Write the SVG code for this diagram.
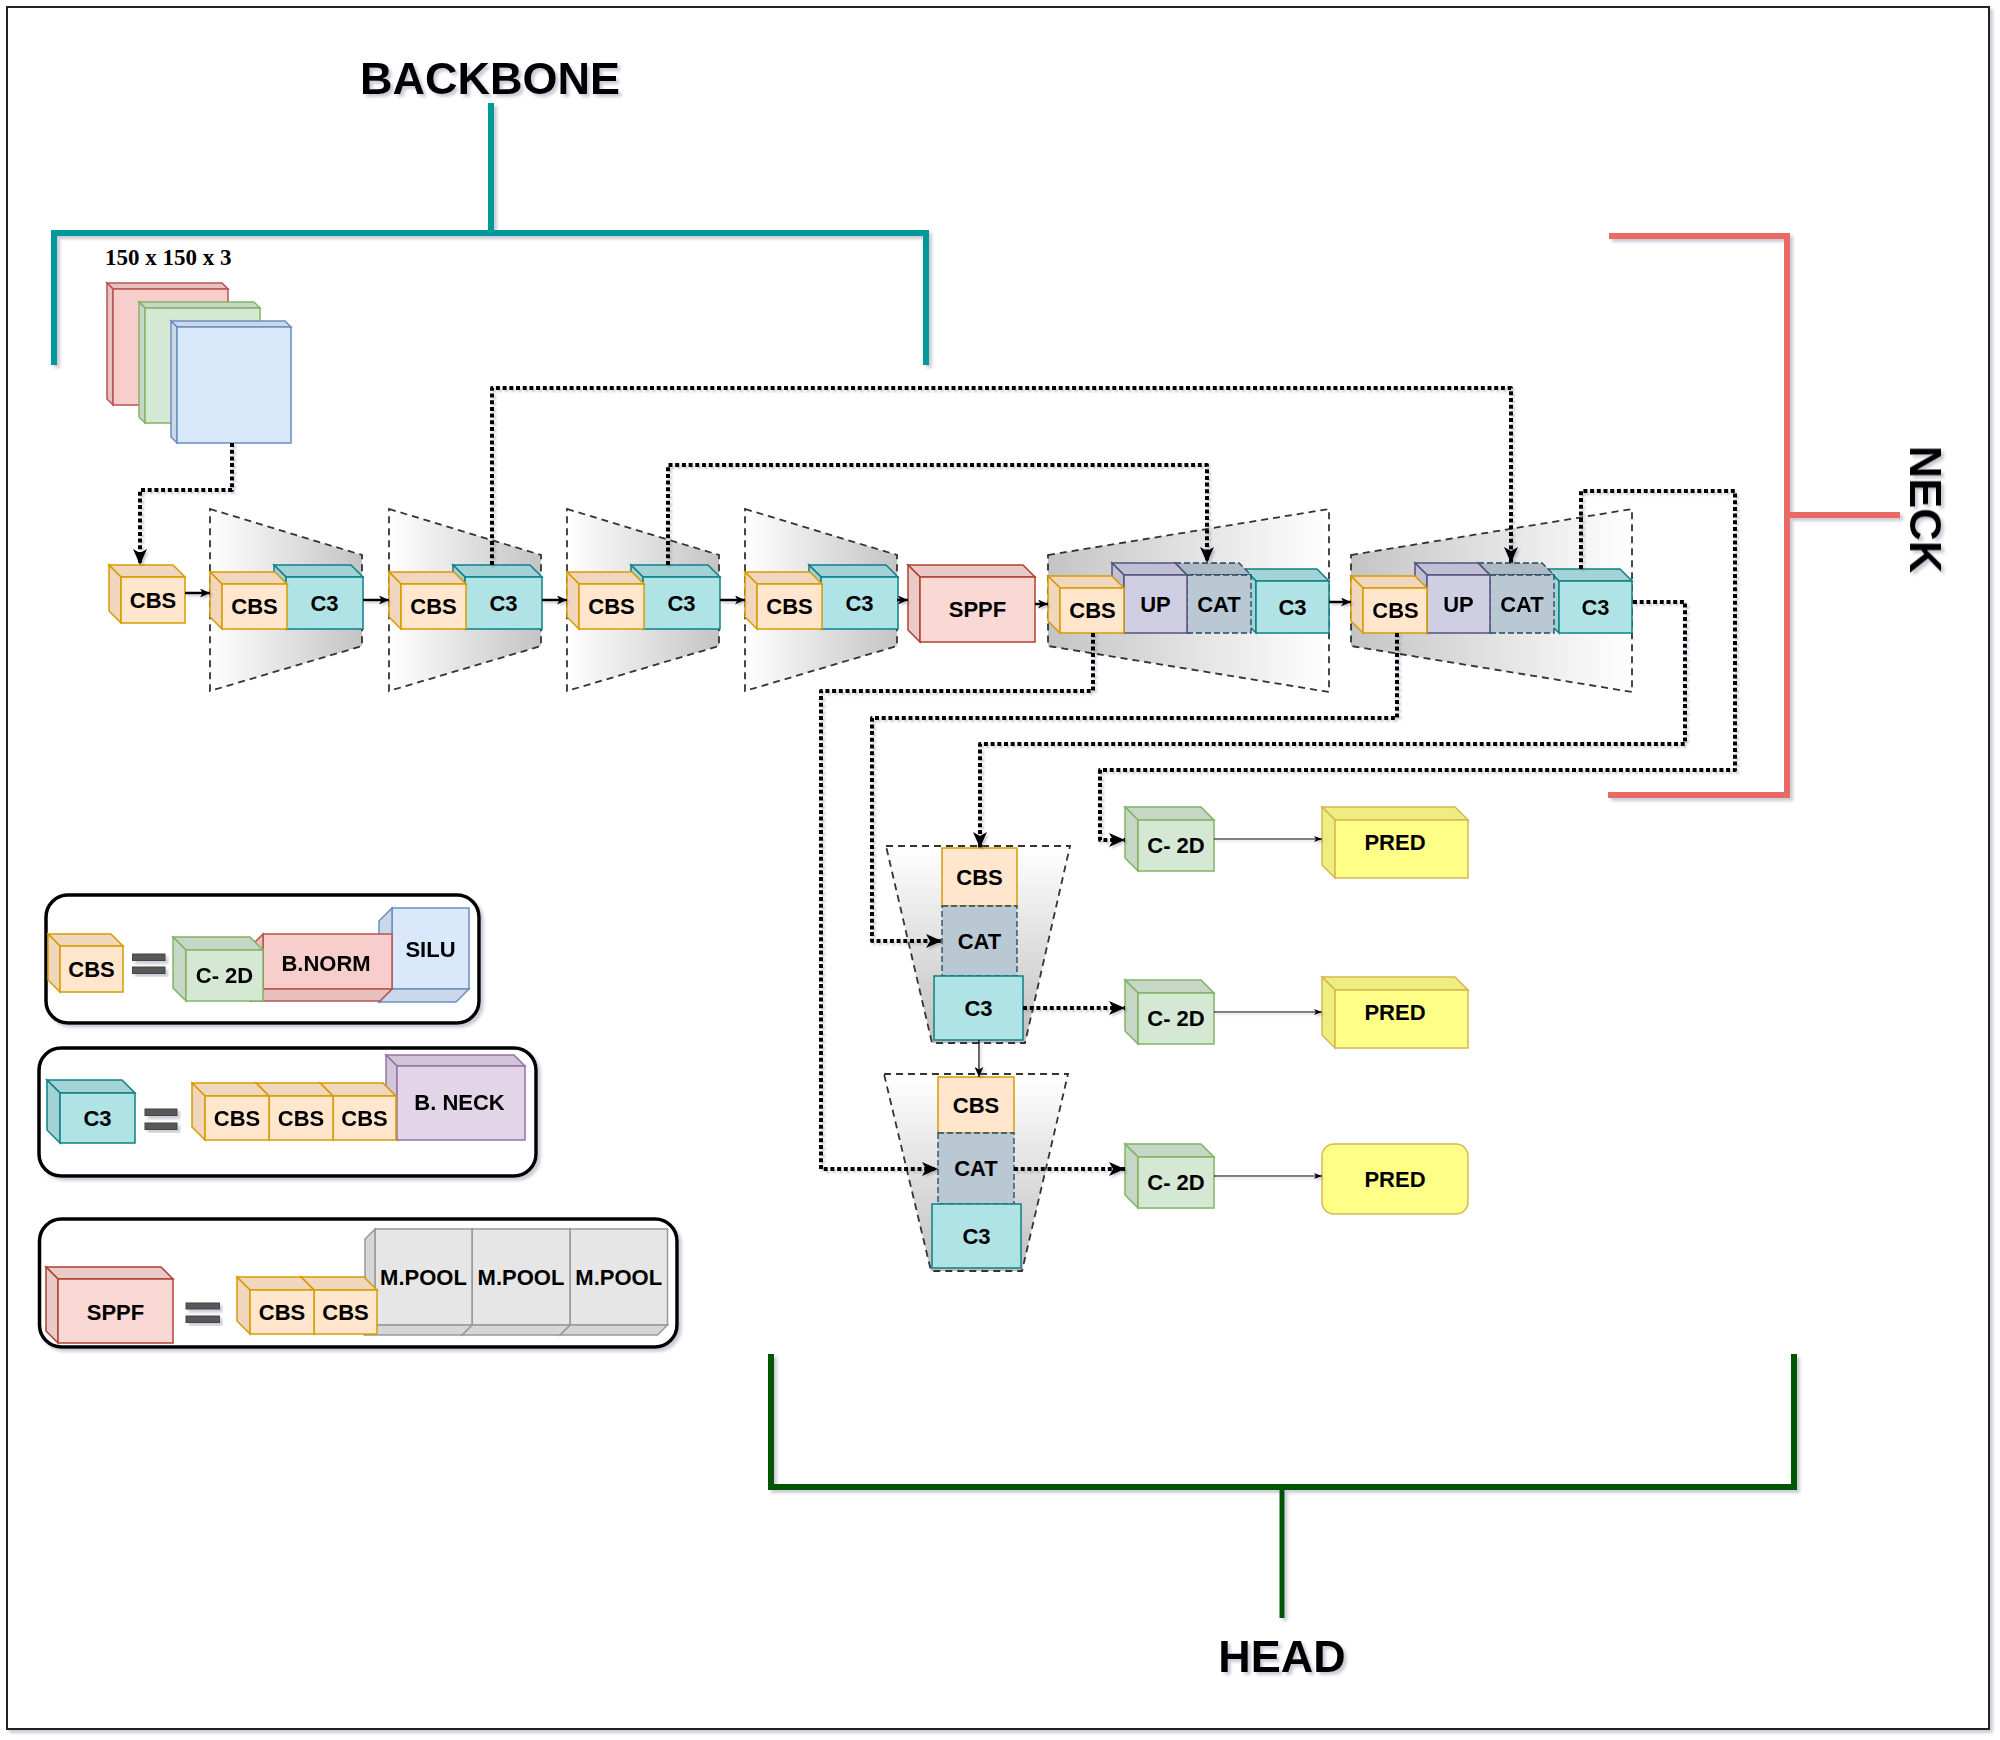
<svg xmlns="http://www.w3.org/2000/svg" width="2000" height="1740" viewBox="0 0 2000 1740">
<defs>
<style>
.t{font-family:"Liberation Sans",Arial,sans-serif;font-weight:bold;font-size:22px;text-anchor:middle;fill:#000}
.title{font-family:"Liberation Sans",Arial,sans-serif;font-weight:bold;font-size:45px;text-anchor:middle;fill:#000}
.trap{stroke:#333;stroke-width:1.8;stroke-dasharray:7 5}
.dot{fill:none;stroke:#000;stroke-width:4;stroke-dasharray:4 2.7;stroke-linejoin:round}
.sol{fill:none;stroke:#000;stroke-width:2.5}
.thin{fill:none;stroke:#000;stroke-width:1.2}
.frame{fill:#fff;stroke:#000;stroke-width:3.5}
.eq{fill:#595959;stroke:#444;stroke-width:1}
.cbs rect,.cbs polygon{stroke:#d79b00;stroke-width:1.5}.cbs rect{fill:#ffe6cc}.cbs polygon{fill:#efd6bc}
.c3 rect,.c3 polygon{stroke:#0e8088;stroke-width:1.5}.c3 rect{fill:#b0e3e6}.c3 polygon{fill:#a3d3d6}
.up rect,.up polygon{stroke:#56517e;stroke-width:1.5}.up rect{fill:#d0cee2}.up polygon{fill:#c1bfd3}
.cat rect,.cat polygon{stroke:#23445d;stroke-width:1.3;stroke-dasharray:6 3}.cat rect{fill:#bac8d3}.cat polygon{fill:#adbac4}
.sppf rect,.sppf polygon{stroke:#ae4132;stroke-width:1.5}.sppf rect{fill:#fad9d5}.sppf polygon{fill:#e9cac6}
.c2d rect,.c2d polygon{stroke:#82b366;stroke-width:1.5}.c2d rect{fill:#d5e8d4}.c2d polygon{fill:#c6d8c5}
.pred rect,.pred polygon{stroke:#d6b656;stroke-width:1.5}.pred rect{fill:#ffff88}.pred polygon{fill:#eeee7e}
.red rect,.red polygon{stroke:#b85450;stroke-width:1.5}.red rect{fill:#f8cecc}.red polygon{fill:#e8c0be}
.grn rect,.grn polygon{stroke:#82b366;stroke-width:1.5}.grn rect{fill:#d5e8d4}.grn polygon{fill:#c6d8c5}
.blu rect,.blu polygon{stroke:#6c8ebf;stroke-width:1.5}.blu rect{fill:#dae8fc}.blu polygon{fill:#cbd8eb}
.bneck rect,.bneck polygon{stroke:#9673a6;stroke-width:1.5}.bneck rect{fill:#e1d5e7}.bneck polygon{fill:#d1c6d7}
.mp rect,.mp polygon{stroke:#999;stroke-width:1.5}.mp rect{fill:#e6e6e6}.mp polygon{fill:#d6d6d6}
</style>
<linearGradient id="gB" x1="0" y1="0" x2="1" y2="0"><stop offset="0" stop-color="#fff"/><stop offset="1" stop-color="#c4c4c4"/></linearGradient>
<linearGradient id="gN" x1="0" y1="0" x2="1" y2="0"><stop offset="0" stop-color="#c4c4c4"/><stop offset="1" stop-color="#fff"/></linearGradient>
<linearGradient id="gH" x1="0" y1="0" x2="0" y2="1"><stop offset="0" stop-color="#fff"/><stop offset="1" stop-color="#c0c0c0"/></linearGradient>
<filter id="sh" x="-5%" y="-5%" width="115%" height="120%"><feDropShadow dx="3" dy="3" stdDeviation="1.5" flood-color="#6c6c8c" flood-opacity="0.35"/></filter>
<filter id="shc" x="-2%" y="-2%" width="104%" height="104%"><feDropShadow dx="2" dy="2" stdDeviation="1" flood-color="#6c6c8c" flood-opacity="0.35"/></filter>
<marker id="a4" markerUnits="userSpaceOnUse" markerWidth="16" markerHeight="14" refX="16" refY="7" orient="auto"><path d="M0,0 L16,7 L0,14 L4,7 Z" fill="#000"/></marker>
<marker id="a2" markerUnits="userSpaceOnUse" markerWidth="10" markerHeight="9" refX="10" refY="4.5" orient="auto"><path d="M0,0 L10,4.5 L0,9 L2.5,4.5 Z" fill="#000"/></marker>
<marker id="a1" markerUnits="userSpaceOnUse" markerWidth="8" markerHeight="6" refX="8" refY="3" orient="auto"><path d="M0,0 L8,3 L0,6 L2,3 Z" fill="#000"/></marker>
</defs>
<rect x="0" y="0" width="2000" height="1740" fill="#fff"/>
<rect id="border" x="7" y="7" width="1982" height="1722" fill="#fff" stroke="#222" stroke-width="2" filter="url(#sh)"/>

<!-- brackets and titles -->
<g id="backbone" filter="url(#sh)">
<text class="title" x="490" y="94">BACKBONE</text>
<path d="M491,103 V233" fill="none" stroke="#00999a" stroke-width="6"/>
<path d="M54,365 V233 H926 V365" fill="none" stroke="#00999a" stroke-width="6"/>
</g>
<g id="neck" filter="url(#sh)">
<path d="M1609,236 H1787 V795 H1608" fill="none" stroke="#ea6b66" stroke-width="6"/>
<path d="M1787,515 H1900" fill="none" stroke="#ea6b66" stroke-width="6"/>
<text class="title" transform="translate(1926,509.5) rotate(90)" x="0" y="16">NECK</text>
</g>
<g id="head" filter="url(#sh)">
<path d="M771,1354 V1487 H1794 V1354" fill="none" stroke="#005700" stroke-width="6"/>
<path d="M1282,1487 V1618" fill="none" stroke="#005700" stroke-width="5"/>
<text class="title" x="1282" y="1672">HEAD</text>
</g>

<!-- input -->
<g id="input">
<text x="105" y="265" font-family="'Liberation Serif','Times New Roman',serif" font-weight="bold" font-size="23" fill="#000">150 x 150 x 3</text>
<g class="red"><polygon points="107,283 222,283 228,289 113,289"/><polygon points="107,283 113,289 113,405 107,399"/><rect x="113" y="289" width="115" height="116"/></g>
<g class="grn"><polygon points="139,302 254,302 260,308 145,308"/><polygon points="139,302 145,308 145,423 139,417"/><rect x="145" y="308" width="115" height="115"/></g>
<g class="blu"><polygon points="171,321 285,321 291,327 177,327"/><polygon points="171,321 177,327 177,443 171,437"/><rect x="177" y="327" width="114" height="116"/></g>
</g>

<g id="cbs0" class="cbs"><polygon points="109,565 173,565 185,577 121,577"/><polygon points="109,565 121,577 121,623 109,611"/><rect x="121" y="577" width="64" height="46"/><text class="t" x="153" y="608">CBS</text></g>

<!-- backbone stages -->
<g id="stage1" transform="translate(210,0)">
<path class="trap" d="M0,509 L152,555 L152,646 L0,691 Z" fill="url(#gB)"/>
<g class="c3"><polygon points="64,565 141,565 153,577 76,577"/><polygon points="64,565 76,577 76,629 64,617"/><rect x="76" y="577" width="77" height="52"/><text class="t" x="114.5" y="611">C3</text></g>
<g class="cbs"><polygon points="0,572 65,572 77,584 12,584"/><polygon points="0,572 12,584 12,629 0,617"/><rect x="12" y="584" width="65" height="45"/><text class="t" x="44.5" y="614">CBS</text></g>
</g>
<g id="stage2" transform="translate(389,0)">
<path class="trap" d="M0,509 L152,555 L152,646 L0,691 Z" fill="url(#gB)"/>
<g class="c3"><polygon points="64,565 141,565 153,577 76,577"/><polygon points="64,565 76,577 76,629 64,617"/><rect x="76" y="577" width="77" height="52"/><text class="t" x="114.5" y="611">C3</text></g>
<g class="cbs"><polygon points="0,572 65,572 77,584 12,584"/><polygon points="0,572 12,584 12,629 0,617"/><rect x="12" y="584" width="65" height="45"/><text class="t" x="44.5" y="614">CBS</text></g>
</g>
<g id="stage3" transform="translate(567,0)">
<path class="trap" d="M0,509 L152,555 L152,646 L0,691 Z" fill="url(#gB)"/>
<g class="c3"><polygon points="64,565 141,565 153,577 76,577"/><polygon points="64,565 76,577 76,629 64,617"/><rect x="76" y="577" width="77" height="52"/><text class="t" x="114.5" y="611">C3</text></g>
<g class="cbs"><polygon points="0,572 65,572 77,584 12,584"/><polygon points="0,572 12,584 12,629 0,617"/><rect x="12" y="584" width="65" height="45"/><text class="t" x="44.5" y="614">CBS</text></g>
</g>
<g id="stage4" transform="translate(745,0)">
<path class="trap" d="M0,509 L152,555 L152,646 L0,691 Z" fill="url(#gB)"/>
<g class="c3"><polygon points="64,565 141,565 153,577 76,577"/><polygon points="64,565 76,577 76,629 64,617"/><rect x="76" y="577" width="77" height="52"/><text class="t" x="114.5" y="611">C3</text></g>
<g class="cbs"><polygon points="0,572 65,572 77,584 12,584"/><polygon points="0,572 12,584 12,629 0,617"/><rect x="12" y="584" width="65" height="45"/><text class="t" x="44.5" y="614">CBS</text></g>
</g>

<g id="sppf" class="sppf"><polygon points="908,565 1023,565 1035,577 920,577"/><polygon points="908,565 920,577 920,642 908,630"/><rect x="920" y="577" width="115" height="65"/><text class="t" x="977.5" y="617">SPPF</text></g>

<!-- neck stages -->
<g id="neck1" transform="translate(1048,0)">
<path class="trap" d="M0,555 L281,509 L281,692 L0,646 Z" fill="url(#gN)"/>
<g class="c3"><polygon points="196,569 269,569 281,581 208,581"/><polygon points="196,569 208,581 208,633 196,621"/><rect x="208" y="581" width="73" height="52"/><text class="t" x="244.5" y="615">C3</text></g>
<g class="cat"><polygon points="127,563 191,563 203,575 139,575"/><polygon points="127,563 139,575 139,633 127,621"/><rect x="139" y="575" width="64" height="58"/><text class="t" x="171" y="612">CAT</text></g>
<g class="up"><polygon points="64,563 127,563 139,575 76,575"/><polygon points="64,563 76,575 76,633 64,621"/><rect x="76" y="575" width="63" height="58"/><text class="t" x="107.5" y="612">UP</text></g>
<g class="cbs"><polygon points="0,576 64,576 76,588 12,588"/><polygon points="0,576 12,588 12,633 0,621"/><rect x="12" y="588" width="64" height="45"/><text class="t" x="44.5" y="618">CBS</text></g>
</g>
<g id="neck2" transform="translate(1351,0)">
<path class="trap" d="M0,555 L281,509 L281,692 L0,646 Z" fill="url(#gN)"/>
<g class="c3"><polygon points="196,569 269,569 281,581 208,581"/><polygon points="196,569 208,581 208,633 196,621"/><rect x="208" y="581" width="73" height="52"/><text class="t" x="244.5" y="615">C3</text></g>
<g class="cat"><polygon points="127,563 191,563 203,575 139,575"/><polygon points="127,563 139,575 139,633 127,621"/><rect x="139" y="575" width="64" height="58"/><text class="t" x="171" y="612">CAT</text></g>
<g class="up"><polygon points="64,563 127,563 139,575 76,575"/><polygon points="64,563 76,575 76,633 64,621"/><rect x="76" y="575" width="63" height="58"/><text class="t" x="107.5" y="612">UP</text></g>
<g class="cbs"><polygon points="0,576 64,576 76,588 12,588"/><polygon points="0,576 12,588 12,633 0,621"/><rect x="12" y="588" width="64" height="45"/><text class="t" x="44.5" y="618">CBS</text></g>
</g>

<!-- head stages -->
<g id="head1">
<path class="trap" d="M886,846 L1070,846 L1025,1043 L932,1043 Z" fill="url(#gH)"/>
<g class="cbs"><rect x="942" y="848" width="75" height="58"/><text class="t" x="979.5" y="885">CBS</text></g>
<g class="cat"><rect x="942" y="906" width="75" height="70"/><text class="t" x="979.5" y="949">CAT</text></g>
<g class="c3"><rect x="934" y="976" width="89" height="64"/><text class="t" x="978.5" y="1016">C3</text></g>
</g>
<g id="head2">
<path class="trap" d="M884,1074 L1068,1074 L1022,1271 L931,1271 Z" fill="url(#gH)"/>
<g class="cbs"><rect x="938" y="1077" width="76" height="56"/><text class="t" x="976" y="1113">CBS</text></g>
<g class="cat"><rect x="938" y="1133" width="76" height="71"/><text class="t" x="976" y="1176">CAT</text></g>
<g class="c3"><rect x="932" y="1204" width="89" height="64"/><text class="t" x="976.5" y="1244">C3</text></g>
</g>

<g id="c2d1" class="c2d" transform="translate(1125,807)"><polygon points="0,0 76,0 89,13 13,13"/><polygon points="0,0 13,13 13,64 0,51"/><rect x="13" y="13" width="76" height="51"/><text class="t" x="51" y="46">C- 2D</text></g>
<g id="c2d2" class="c2d" transform="translate(1125,980)"><polygon points="0,0 76,0 89,13 13,13"/><polygon points="0,0 13,13 13,64 0,51"/><rect x="13" y="13" width="76" height="51"/><text class="t" x="51" y="46">C- 2D</text></g>
<g id="c2d3" class="c2d" transform="translate(1125,1144)"><polygon points="0,0 76,0 89,13 13,13"/><polygon points="0,0 13,13 13,64 0,51"/><rect x="13" y="13" width="76" height="51"/><text class="t" x="51" y="46">C- 2D</text></g>

<g id="pred1" class="pred" transform="translate(1322,807)"><polygon points="0,0 133,0 146,13 13,13"/><polygon points="0,0 13,13 13,71 0,58"/><rect x="13" y="13" width="133" height="58"/><text class="t" x="73" y="43">PRED</text></g>
<g id="pred2" class="pred" transform="translate(1322,977)"><polygon points="0,0 133,0 146,13 13,13"/><polygon points="0,0 13,13 13,71 0,58"/><rect x="13" y="13" width="133" height="58"/><text class="t" x="73" y="43">PRED</text></g>
<g id="pred3" class="pred"><rect x="1322" y="1144" width="146" height="70" rx="12"/><text class="t" x="1395" y="1187">PRED</text></g>

<!-- connectors -->
<g id="connectors" filter="url(#shc)">
<path class="dot" d="M232,443 V490 H140 V565" marker-end="url(#a4)"/>
<path class="dot" d="M492,565 V388 H1511 V563" marker-end="url(#a4)"/>
<path class="dot" d="M668,565 V465 H1207 V563" marker-end="url(#a4)"/>
<path class="dot" d="M1581,569 V491 H1735 V770 H1100 V840 H1125" marker-end="url(#a4)"/>
<path class="dot" d="M1633,602 H1685 V744 H980 V848" marker-end="url(#a4)"/>
<path class="dot" d="M1397,633 V718 H872 V941 H942" marker-end="url(#a4)"/>
<path class="dot" d="M1093,633 V691 H821 V1169 H938" marker-end="url(#a4)"/>
<path class="dot" d="M1023,1008 H1125" marker-end="url(#a4)"/>
<path class="dot" d="M1014,1169 H1125" marker-end="url(#a4)"/>
<path class="sol" d="M185,593 H210" marker-end="url(#a2)"/>
<path class="sol" d="M363,600 H389" marker-end="url(#a2)"/>
<path class="sol" d="M542,600 H567" marker-end="url(#a2)"/>
<path class="sol" d="M720,600 H745" marker-end="url(#a2)"/>
<path class="sol" d="M897,600 H908" marker-end="url(#a2)"/>
<path class="sol" d="M1035,604 H1048" marker-end="url(#a2)"/>
<path class="sol" d="M1329,602 H1351" marker-end="url(#a2)"/>
<path class="thin" d="M979,1040 V1077" stroke-width="1.8" marker-end="url(#a2)"/>
<path class="thin" d="M1214,839 H1322" marker-end="url(#a1)"/>
<path class="thin" d="M1214,1012 H1322" marker-end="url(#a1)"/>
<path class="thin" d="M1214,1176 H1322" marker-end="url(#a1)"/>
</g>

<!-- legend CBS -->
<g id="legend-cbs">
<rect class="frame" x="46" y="895" width="433" height="128" rx="22" filter="url(#sh)"/>
<g class="cbs"><polygon points="48,934 111,934 123,946 60,946"/><polygon points="48,934 60,946 60,992 48,980"/><rect x="60" y="946" width="63" height="46"/><text class="t" x="91.5" y="977">CBS</text></g>
<g filter="url(#sh)"><rect class="eq" x="132.5" y="954" width="32.5" height="6.5"/><rect class="eq" x="132.5" y="967" width="32.5" height="6.5"/></g>
<g class="blu"><rect x="392" y="908" width="77" height="81"/><polygon points="379,921 392,908 392,989 379,1002"/><polygon points="379,1002 392,989 469,989 456,1002"/><text class="t" x="430.5" y="957">SILU</text></g>
<g class="red"><rect x="263" y="934" width="129" height="55"/><polygon points="251,946 263,934 263,989 251,1001"/><polygon points="251,1001 263,989 392,989 380,1001"/><text class="t" x="326" y="971">B.NORM</text></g>
<g class="c2d"><polygon points="173,937 250,937 263,950 186,950"/><polygon points="173,937 186,950 186,1001 173,988"/><rect x="186" y="950" width="77" height="51"/><text class="t" x="224.5" y="983">C- 2D</text></g>
</g>

<!-- legend C3 -->
<g id="legend-c3">
<rect class="frame" x="39" y="1048" width="497" height="128" rx="22" filter="url(#sh)"/>
<g class="c3"><polygon points="47,1080 122,1080 135,1093 60,1093"/><polygon points="47,1080 60,1093 60,1143 47,1130"/><rect x="60" y="1093" width="75" height="50"/><text class="t" x="97.5" y="1126">C3</text></g>
<g filter="url(#sh)"><rect class="eq" x="145" y="1109" width="32" height="6.5"/><rect class="eq" x="145" y="1123" width="32" height="6.5"/></g>
<g class="bneck"><polygon points="386,1055 514,1055 525,1066 397,1066"/><polygon points="386,1055 397,1066 397,1140 386,1129"/><rect x="397" y="1066" width="128" height="74"/><text class="t" x="459.5" y="1110">B. NECK</text></g>
<g class="cbs"><polygon points="320,1083 383,1083 396,1096 333,1096"/><polygon points="320,1083 333,1096 333,1140 320,1127"/><rect x="333" y="1096" width="63" height="44"/><text class="t" x="364.5" y="1126">CBS</text></g>
<g class="cbs"><polygon points="256,1083 320,1083 333,1096 269,1096"/><polygon points="256,1083 269,1096 269,1140 256,1127"/><rect x="269" y="1096" width="64" height="44"/><text class="t" x="301" y="1126">CBS</text></g>
<g class="cbs"><polygon points="192,1083 256,1083 269,1096 205,1096"/><polygon points="192,1083 205,1096 205,1140 192,1127"/><rect x="205" y="1096" width="64" height="44"/><text class="t" x="237" y="1126">CBS</text></g>
</g>

<!-- legend SPPF -->
<g id="legend-sppf">
<rect class="frame" x="39.5" y="1219" width="637.5" height="128" rx="22" filter="url(#sh)"/>
<g class="sppf"><polygon points="46,1267 161,1267 173,1279 58,1279"/><polygon points="46,1267 58,1279 58,1343 46,1331"/><rect x="58" y="1279" width="115" height="64"/><text class="t" x="115.5" y="1320">SPPF</text></g>
<g filter="url(#sh)"><rect class="eq" x="186" y="1303" width="33.5" height="6"/><rect class="eq" x="186" y="1316" width="33.5" height="6.5"/></g>
<g class="mp"><rect x="570" y="1229" width="97.5" height="96"/><polygon points="560,1239 570,1229 570,1325 560,1335"/><polygon points="560,1335 570,1325 667.5,1325 657.5,1335"/><text class="t" x="618.75" y="1285">M.POOL</text></g>
<g class="mp"><rect x="472" y="1229" width="98" height="96"/><polygon points="462,1239 472,1229 472,1325 462,1335"/><polygon points="462,1335 472,1325 570,1325 560,1335"/><text class="t" x="521" y="1285">M.POOL</text></g>
<g class="mp"><rect x="375" y="1229" width="97" height="96"/><polygon points="365,1239 375,1229 375,1325 365,1335"/><polygon points="365,1335 375,1325 472,1325 462,1335"/><text class="t" x="423.5" y="1285">M.POOL</text></g>
<g class="cbs"><polygon points="301,1277 364,1277 377,1290 314,1290"/><polygon points="301,1277 314,1290 314,1334 301,1321"/><rect x="314" y="1290" width="63" height="44"/><text class="t" x="345.5" y="1320">CBS</text></g>
<g class="cbs"><polygon points="237,1277 301,1277 314,1290 250,1290"/><polygon points="237,1277 250,1290 250,1334 237,1321"/><rect x="250" y="1290" width="64" height="44"/><text class="t" x="282" y="1320">CBS</text></g>
</g>
</svg>
